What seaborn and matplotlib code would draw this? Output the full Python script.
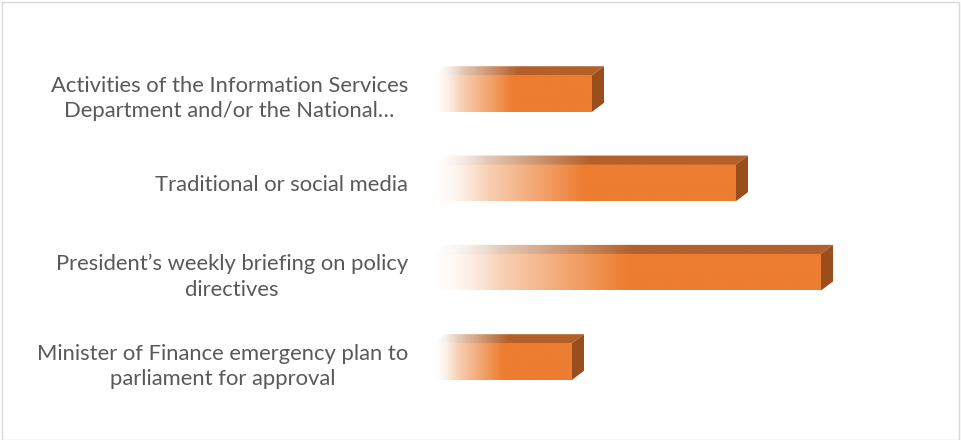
from matplotlib import pyplot as plt
from matplotlib.patches import Polygon, Rectangle
from matplotlib.colors import to_rgb
import numpy as np
import pandas as pd
import seaborn as sns

labels = [
    "Activities of the Information Services\nDepartment and/or the National…",
    "Traditional or social media",
    "President’s weekly briefing on policy\ndirectives",
    "Minister of Finance emergency plan to\nparliament for approval",
]
values = [15.9, 30.3, 38.8, 13.9]

FRONT = "#ED7D31"
TOP = "#B4602A"
SIDE = "#9A4E1D"
TEXT = "#595959"


def gradient(color, n=256, stop=0.5):
    """Row of RGBA going from white to color, full color after stop"""
    t = np.clip(np.linspace(0, 1, n) / stop, 0, 1)
    rgb = np.array(to_rgb(color))
    img = np.ones((1, n, 4))
    img[0, :, :3] = (1 - t)[:, None] * 1.0 + t[:, None] * rgb
    img[0, :, 3] = 0.25 + 0.75 * np.clip(t * 3, 0, 1)
    return img


sns.set_style("white")
plt.rcParams["font.family"] = ["Lato", "DejaVu Sans"]

fig = plt.figure(figsize=(9.61, 4.40), dpi=100)
ax = fig.add_axes([433 / 961, 0.0769, 500 / 961, 0.812])

df = pd.DataFrame({"label": labels, "value": values})
sns.barplot(data=df, x="value", y="label", orient="h", color=FRONT, width=0.41, ax=ax)

ax.set_xlim(0, 50)
ax.set_ylim(3.5, -0.5)

# 3D depth, in data units (10 px per x unit, ~89 px per category)
dx = 12 / 10
dy = 9 / 89.3

for p in ax.patches:
    x0, y0 = p.get_x(), p.get_y()
    w, h = p.get_width(), p.get_height()
    p.set_facecolor("none")
    p.set_edgecolor("none")
    # front face gradient
    ax.imshow(gradient(FRONT, stop=0.5), extent=[x0, x0 + w, y0 + h, y0],
              aspect="auto", interpolation="bicubic", zorder=3)
    # top face
    top = Polygon([(x0, y0), (x0 + w, y0), (x0 + w + dx, y0 - dy), (x0 + dx, y0 - dy)],
                  closed=True, facecolor="none", edgecolor="none")
    ax.add_patch(top)
    im = ax.imshow(gradient(TOP, stop=0.5), extent=[x0, x0 + w + dx, y0, y0 - dy],
                   aspect="auto", interpolation="bicubic", zorder=3)
    im.set_clip_path(top)
    # side face
    side = Polygon([(x0 + w, y0), (x0 + w + dx, y0 - dy), (x0 + w + dx, y0 + h - dy), (x0 + w, y0 + h)],
                   closed=True, facecolor=SIDE, edgecolor="none", zorder=3)
    ax.add_patch(side)

ax.set_xlim(0, 50)
ax.set_ylim(3.5, -0.5)
ax.set_xlabel("")
ax.set_ylabel("")
ax.set_xticks([])
sns.despine(ax=ax, left=True, bottom=True)
ax.tick_params(axis="y", length=0, pad=18, labelsize=15.8, labelcolor=TEXT)
for t in ax.get_yticklabels():
    t.set_multialignment("center")
    t.set_linespacing(1.33)

fig.add_artist(Rectangle((2 / 961, 0), 957 / 961, 1 - 2 / 440, transform=fig.transFigure,
                         fill=False, edgecolor="#D9D9D9", linewidth=1))

fig.savefig("out.png", dpi=100)
